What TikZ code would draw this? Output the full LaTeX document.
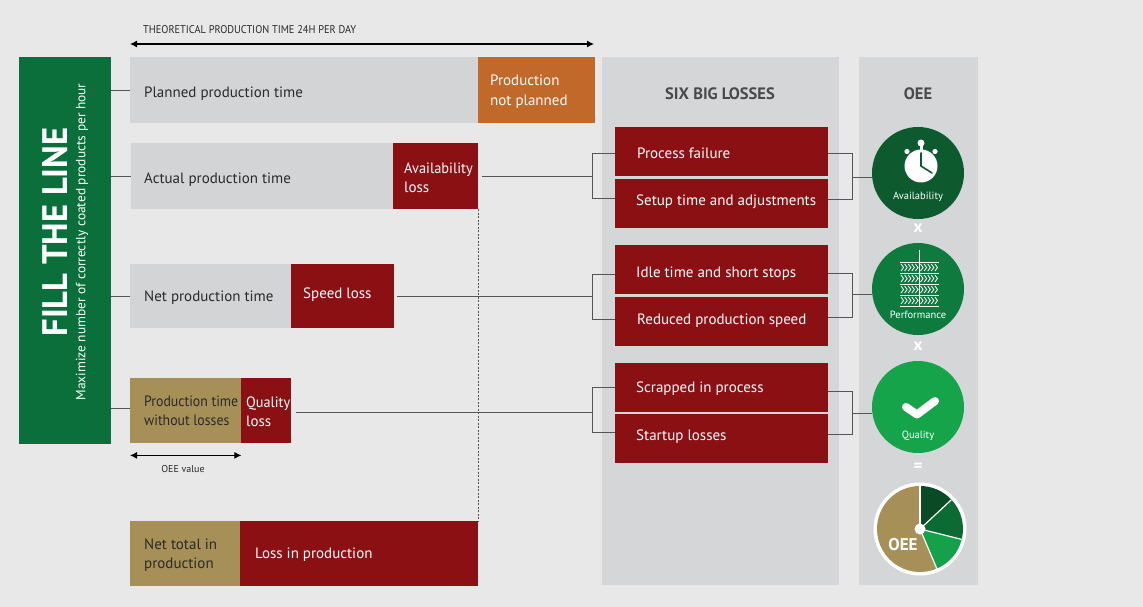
\documentclass[tikz,border=0pt]{standalone}
\usepackage{fontspec}
\setmainfont{PT Sans}
\usetikzlibrary{arrows.meta,calc}
\definecolor{bg}{HTML}{E8E8E9}
\definecolor{boxgray}{HTML}{D3D4D6}
\definecolor{panelgray}{HTML}{D5D6D8}
\definecolor{lossred}{HTML}{8A1014}
\definecolor{orangebox}{HTML}{C1692A}
\definecolor{tanbox}{HTML}{A79057}
\definecolor{leftgreen}{HTML}{0A6F3A}
\definecolor{avgreen}{HTML}{0C5A2E}
\definecolor{pegreen}{HTML}{0F7A3D}
\definecolor{qugreen}{HTML}{16A44B}
\definecolor{piedark}{HTML}{0A4A24}
\definecolor{piemid}{HTML}{0B6B33}
\definecolor{pielight}{HTML}{15A04A}
\definecolor{darktext}{HTML}{2A2A2A}
\definecolor{titletext}{HTML}{4A4A4A}
\definecolor{linegray}{HTML}{555555}
\tikzset{
  boxnode/.style={rectangle, anchor=north west, inner sep=0pt, draw=none},
  lbl/.style={anchor=west, align=left, inner sep=0pt, font=\fontsize{15}{19.5}\selectfont},
  dlbl/.style={lbl, text=darktext},
  wlbl/.style={lbl, text=white},
  conn/.style={draw=linegray, line width=0.8pt},
  dimarrow/.style={draw=black, line width=1.1pt, {Latex[length=7pt,width=7pt]}-{Latex[length=7pt,width=7pt]}},
  circ/.style={circle, minimum size=92pt, inner sep=0pt},
  circlbl/.style={inner sep=0pt, text=white, font=\fontsize{10.5}{12}\selectfont},
  optext/.style={inner sep=0pt, text=white, font=\bfseries\fontsize{17}{17}\selectfont},
  paneltitle/.style={inner sep=0pt, text=titletext, font=\bfseries\fontsize{16.5}{18}\selectfont},
}
\begin{document}
\begin{tikzpicture}[x=1pt,y=-1pt]
\useasboundingbox (0,0) rectangle (1143,607);
\fill[bg] (0,0) rectangle (1143,607);

% top dimension arrow
\coordinate (ta1) at (130,44);
\coordinate (ta2) at (594,44);
\draw[dimarrow] (ta1) -- (ta2);
\node[anchor=west, inner sep=0pt, text=darktext] (toplbl) at (143,30)
  {\resizebox{213pt}{8pt}{\fontsize{10}{10}\selectfont THEORETICAL PRODUCTION TIME 24H PER DAY}};

% left green bar
\node[boxnode, fill=leftgreen, minimum width=92pt, minimum height=387pt] (flb) at (19,57) {};
\node[rotate=90, inner sep=0pt, text=white] (flbtitle) at (55,232)
  {\resizebox{209pt}{25pt}{\bfseries FILL THE LINE}};
\node[rotate=90, inner sep=0pt, text=white] (flbsub) at (82,242)
  {\resizebox{317pt}{!}{\fontsize{12}{12}\selectfont Maximize number of correctly coated products per hour}};

% row 1
\node[boxnode, fill=boxgray, minimum width=348pt, minimum height=66pt] (pp) at (130,57) {};
\node[dlbl] (ppt) at ($(pp.west)+(14,3)$) {Planned production time};
\node[boxnode, fill=orangebox, minimum width=117pt, minimum height=66pt] (pnp) at (478,57) {};
\node[wlbl] (pnpt) at ($(pnp.west)+(12,1.5)$) {Production\\not planned};

% row 2
\node[boxnode, fill=boxgray, minimum width=262pt, minimum height=66pt] (apt) at (131,143) {};
\node[dlbl] (aptt) at ($(apt.west)+(13,3)$) {Actual production time};
\node[boxnode, fill=lossred, minimum width=85pt, minimum height=66pt] (avl) at (393,143) {};
\node[wlbl] (avlt) at ($(avl.west)+(11,1.5)$) {\scalebox{0.96}[1]{Availability}\\loss};

% row 3
\node[boxnode, fill=boxgray, minimum width=161pt, minimum height=64pt] (npt) at (130,264) {};
\node[dlbl] (nptt) at ($(npt.west)+(14,1)$) {Net production time};
\node[boxnode, fill=lossred, minimum width=103pt, minimum height=64pt] (spl) at (291,264) {};
\node[wlbl] (splt) at ($(spl.west)+(12,-1.5)$) {Speed loss};

% row 4
\node[boxnode, fill=tanbox, minimum width=111pt, minimum height=65pt] (ptw) at (130,378) {};
\node[boxnode, fill=lossred, minimum width=50pt, minimum height=65pt] (ql) at (241,378) {};
\node[dlbl] (ptwt) at ($(ptw.west)+(14,0)$) {\scalebox{0.92}[1]{Production time}\\\scalebox{0.92}[1]{without losses}};
\node[wlbl] (qlt) at ($(ql.west)+(5,1)$) {\scalebox{0.95}[1]{Quality}\\loss};

% OEE value arrow
\draw[dimarrow] ([yshift=-12pt]ptw.south west) -- ([yshift=-12pt]ptw.south east);
\node[inner sep=0pt, text=darktext, font=\fontsize{10}{11}\selectfont] (oeev) at (183,469) {OEE value};

% row 5
\node[boxnode, fill=tanbox, minimum width=110pt, minimum height=65pt] (ntp) at (130,521) {};
\node[dlbl] (ntpt) at ($(ntp.west)+(14,1.5)$) {Net total in\\production};
\node[boxnode, fill=lossred, minimum width=238pt, minimum height=65pt] (lip) at (240,521) {};
\node[wlbl] (lipt) at ($(lip.west)+(15,1)$) {Loss in production};

% connectors from green bar
\draw[conn] (flb.east |- pp.west) -- (pp.west);
\draw[conn] (flb.east |- apt.west) -- (apt.west);
\draw[conn] (flb.east |- npt.west) -- (npt.west);
\draw[conn] ($(flb.east |- ptw.west)+(0,-2)$) -- ($(ptw.west)+(0,-2)$);

% dashed line
\draw[draw=linegray, line width=0.7pt, dash pattern=on 2pt off 1.5pt] (avl.south east) -- (lip.north east);

% six big losses panel
\node[boxnode, fill=panelgray, minimum width=237pt, minimum height=528pt] (sbl) at (602,57) {};
\node[paneltitle] (sblt) at (720,94) {SIX BIG LOSSES};
\node[boxnode, fill=lossred, minimum width=213pt, minimum height=49pt] (pf) at (615,127) {};
\node[wlbl] (pft) at ($(pf.west)+(22,1.5)$) {Process failure};
\node[boxnode, fill=lossred, minimum width=213pt, minimum height=49pt] (st) at (615,179) {};
\node[wlbl] (stt) at ($(st.west)+(21,-2)$) {Setup time and adjustments};
\node[boxnode, fill=lossred, minimum width=213pt, minimum height=49pt] (it) at (615,245) {};
\node[wlbl] (itt) at ($(it.west)+(21,4)$) {Idle time and short stops};
\node[boxnode, fill=lossred, minimum width=213pt, minimum height=49pt] (rp) at (615,297) {};
\node[wlbl] (rpt) at ($(rp.west)+(22,-1)$) {Reduced production speed};
\node[boxnode, fill=lossred, minimum width=213pt, minimum height=49pt] (sp) at (615,363) {};
\node[wlbl] (spt) at ($(sp.west)+(21,1)$) {Scrapped in process};
\node[boxnode, fill=lossred, minimum width=213pt, minimum height=49pt] (sl) at (615,414) {};
\node[wlbl] (slt) at ($(sl.west)+(21,-2)$) {Startup losses};

% OEE panel
\node[boxnode, fill=panelgray, minimum width=119pt, minimum height=528pt] (oeep) at (859,57) {};
\node[paneltitle] (oeet) at (918,94) {OEE};

\node[circ, fill=avgreen] (av) at (918,173) {};
\node[circ, fill=pegreen] (pe) at (918,289) {};
\node[circ, fill=qugreen] (qu) at (918,407) {};

\node[optext] (x1) at (918,228) {x};
\node[optext] (x2) at (918,346) {x};
\node[optext] (eq) at (918,467) {=};

% stopwatch icon
\fill[white] (921,143) circle (3.5);
\fill[white] (919.5,143) rectangle (922.5,151);
\fill[white] (907,151.5) circle (2.6);
\fill[white] (935,151.5) circle (2.6);
\fill[white] (921,166) circle (16.5);
\draw[avgreen, line width=1.6pt, line cap=round] (921,153) -- (921,166) -- (932,173);
\node[circlbl] (avt) at (918,197) {Availability};

% performance icon
\draw[white, line width=0.7pt] (919,250) -- (919,306);
\foreach \r in {0,1,2,3}{
  \draw[white, line width=0.7pt] (900,262+11*\r) -- (939,262+11*\r);
  \foreach \i in {0,1,2,3,4}{
    \draw[white, line width=0.8pt] (901+3.6*\i,264+11*\r) -- (903.6+3.6*\i,267.5+11*\r) -- (901+3.6*\i,271+11*\r);
    \draw[white, line width=0.8pt] (920.5+3.6*\i,264+11*\r) -- (923.1+3.6*\i,267.5+11*\r) -- (920.5+3.6*\i,271+11*\r);
  }
}
\draw[white, line width=0.7pt] (900,306) -- (939,306);
\node[circlbl] (pet) at (918,315) {Performance};

% quality icon
\draw[white, line width=8pt, line cap=round, line join=round] (906,407) -- (917,414.5) -- (935,401);
\node[circlbl] (qut) at (918,436) {Quality};

% pie chart
\coordinate (pc) at (920,529);
\fill[white] (pc) circle (46.5);
\fill[tanbox] (pc) -- ++(-90:43) arc[start angle=-90, end angle=-293, radius=43] -- cycle;
\fill[pielight] (pc) -- ++(67:43) arc[start angle=67, end angle=14, radius=43] -- cycle;
\fill[piemid] (pc) -- ++(14:43) arc[start angle=14, end angle=-43, radius=43] -- cycle;
\fill[piedark] (pc) -- ++(-43:43) arc[start angle=-43, end angle=-90, radius=43] -- cycle;
\foreach \a in {-90,67,14,-43}{
  \draw[white, line width=1.2pt] (pc) -- ++(\a:43);
}
\fill[white] (pc) circle (5.5);
\node[inner sep=0pt, text=white, font=\bfseries\fontsize{17}{18}\selectfont] (oeepie) at (903,545) {OEE};

% left brackets
\path (avl.east) ++(114,0) coordinate (lb1);
\draw[conn] ([xshift=4pt]avl.east) -- (lb1);
\draw[conn] ($(pf.west)+(0,2)$) -| (lb1) |- ($(st.west)+(0,-5)$);
\path (spl.east) ++(198,0) coordinate (lb2);
\draw[conn] ([xshift=3pt]spl.east) -- (lb2);
\draw[conn] ($(it.west)+(0,4.5)$) -| (lb2) |- ($(rp.west)+(0,-2.5)$);
\path (ql.east) ++(301,1.5) coordinate (lb3);
\draw[conn] ($(ql.east)+(5,1.5)$) -- (lb3);
\draw[conn] (sp.west) -| (lb3) |- ($(sl.west)+(0,-6)$);

% right brackets
\coordinate (rb1) at (852,177);
\draw[conn] ($(pf.east)+(0,2)$) -| (rb1) |- ($(st.east)+(0,-4.5)$);
\draw[conn] (rb1) -- (rb1 -| av.west);
\coordinate (rb2) at (852,294);
\draw[conn] ($(it.east)+(0,3.5)$) -| (rb2) |- ($(rp.east)+(0,-4.5)$);
\draw[conn] (rb2) -- (rb2 -| pe.west);
\coordinate (rb3) at (852,413);
\draw[conn] ($(sp.east)+(0,3.5)$) -| (rb3) |- ($(sl.east)+(0,-4.5)$);
\draw[conn] (rb3) -- (rb3 -| qu.west);
\end{tikzpicture}
\end{document}
